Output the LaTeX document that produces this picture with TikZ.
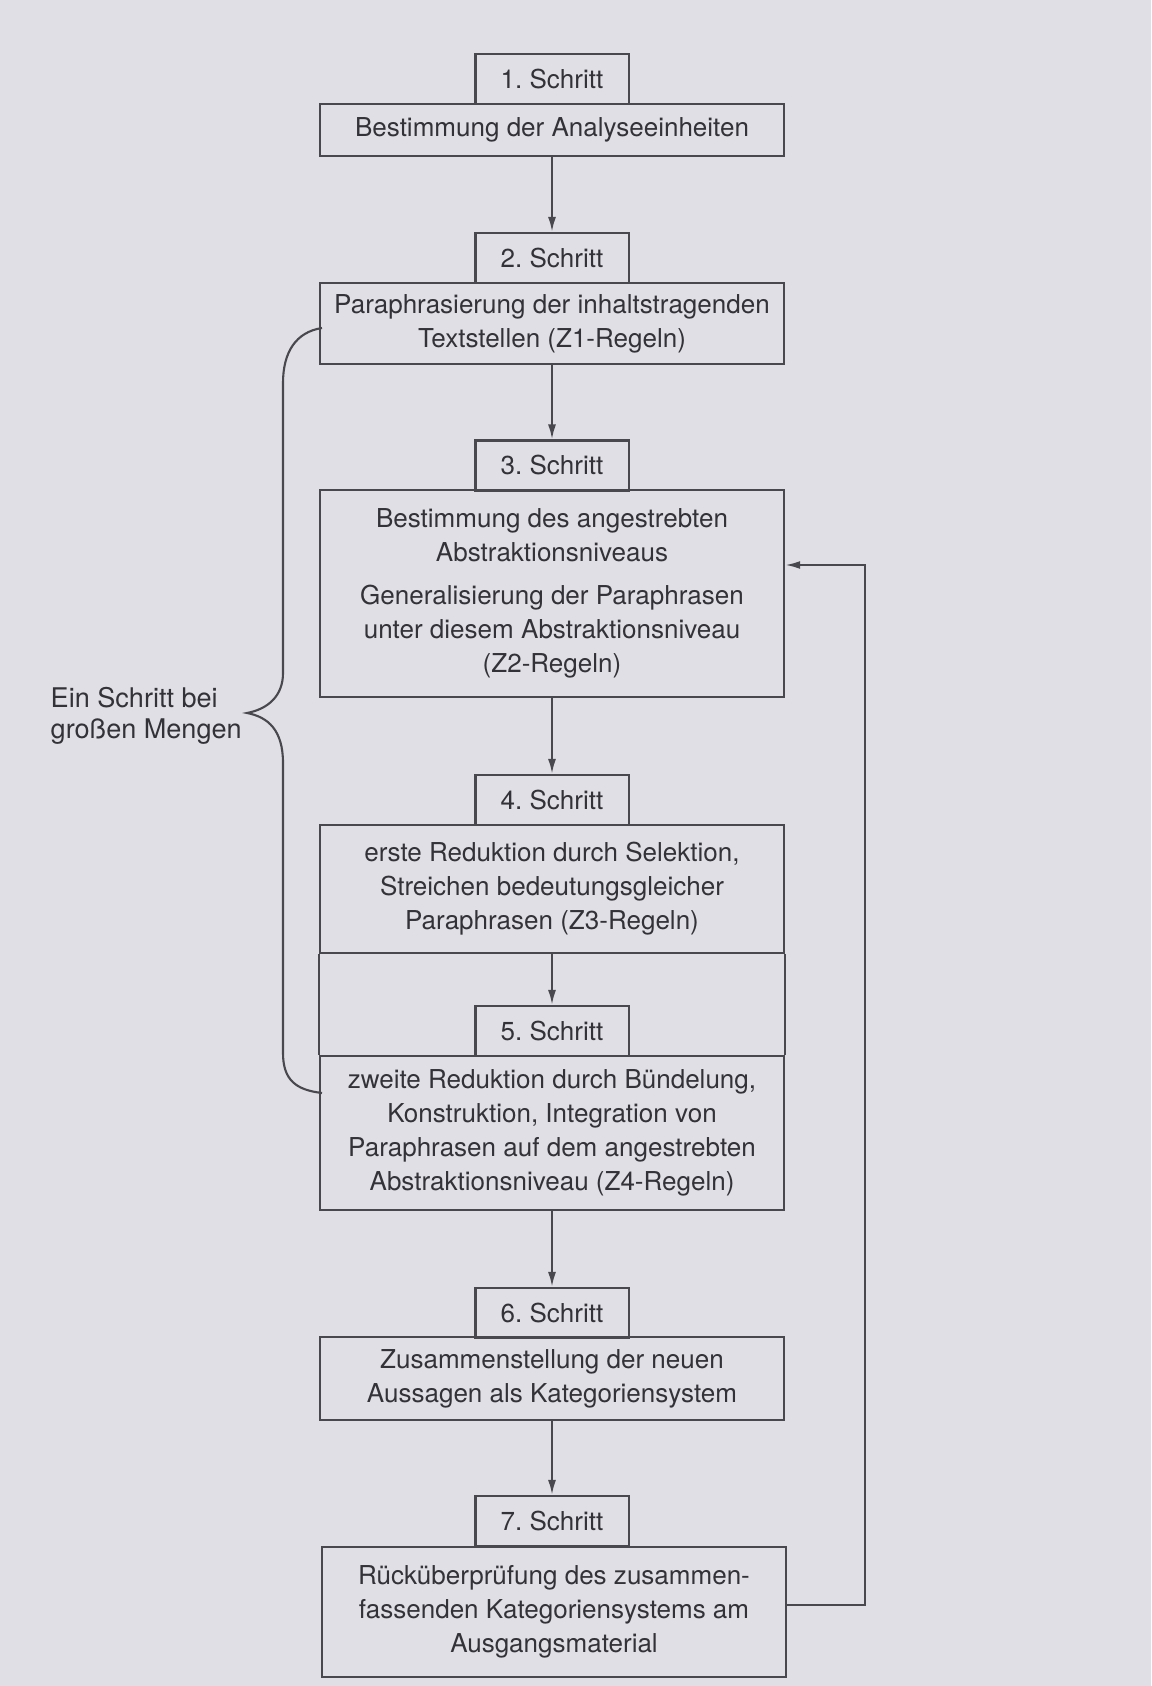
\documentclass[tikz,border=0pt]{standalone}
\usepackage{fontspec}
\setmainfont{TeX Gyre Heros}
\usepackage{tikz}
\usetikzlibrary{arrows.meta}
\definecolor{paper}{RGB}{223,223,229}
\definecolor{ink}{RGB}{72,72,78}
\definecolor{txt}{RGB}{50,50,56}
\frenchspacing

\begin{document}
\begin{tikzpicture}[x=0.01cm,y=-0.01cm,
        every node/.style={inner sep=0pt, text=txt, font=\fontsize{7.4}{9.7}\selectfont},
        tab/.style={draw=ink, line width=0.6pt, minimum width=1.53cm, minimum height=0.50cm},
        box/.style={draw=ink, line width=0.6pt, minimum width=4.64cm, align=center},
        arr/.style={draw=ink, line width=0.6pt, -{Latex[length=1.5mm,width=0.8mm]}}]
        \fill [paper] (0,0) rectangle (1151,1686);
        \useasboundingbox (0,0) rectangle (1151,1686);
        \node [tab] (s1) at (552,79) {1. Schritt};
        \node [box, minimum height=0.52cm] (b1) at (552,130) {Bestimmung der Analyseeinheiten};
        \node [tab] (s2) at (552,258) {2. Schritt};
        \node [box, minimum height=0.81cm] (b2) at (552,323.5) {Paraphrasierung der inhaltstragenden\\Textstellen (Z1-Regeln)};
        \node [tab] (s3) at (552,465.5) {3. Schritt};
        \node [box, minimum height=2.07cm] (b3) at (552,593.5) {Bestimmung des angestrebten\\Abstraktionsniveaus\\[2.5pt]Generalisierung der Paraphrasen\\unter diesem Abstraktionsniveau\\(Z2-Regeln)};
        \node [tab] (s4) at (552,800) {4. Schritt};
        \node [box, minimum height=1.28cm] (b4) at (552,889) {erste Reduktion durch Selektion,\\Streichen bedeutungsgleicher\\Paraphrasen (Z3-Regeln)};
        \node [tab] (s5) at (552,1031) {5. Schritt};
        \node [box, minimum height=1.54cm] (b5) at (552,1133) {zweite Reduktion durch Bündelung,\\Konstruktion, Integration von\\Paraphrasen auf dem angestrebten\\Abstraktionsniveau (Z4-Regeln)};
        \node [tab] (s6) at (552,1313) {6. Schritt};
        \node [box, minimum height=0.83cm] (b6) at (552,1378.5) {Zusammenstellung der neuen\\Aussagen als Kategoriensystem};
        \node [tab] (s7) at (552,1521) {7. Schritt};
        \node [box, minimum height=1.30cm] (b7) at (554,1612) {Rücküberprüfung des zusammen-\\fassenden Kategoriensystems am\\Ausgangsmaterial};
        \node [font=\fontsize{7.7}{8.9}\selectfont, align=left, anchor=west] (note) at (50,716) {Ein Schritt bei\\großen Mengen};
        \draw [arr] (b1.south) -- (s2.north);
        \draw [arr] (b2.south) -- (s3.north);
        \draw [arr] (b3.south) -- (s4.north);
        \draw [arr] (b4.south) -- (s5.north);
        \draw [arr] (b5.south) -- (s6.north);
        \draw [arr] (b6.south) -- (s7.north);
        \draw [draw=ink, line width=0.6pt] (b4.south west) -- (b5.north west) (b4.south east) -- (b5.north east);
        \coordinate (back) at (865,565);
        \draw [arr] ([yshift=0.07cm]b7.east) -| (back) -- (back -| b3.east);
        \draw [draw=ink, line width=0.6pt] (322,328) .. controls (296,332) and (283,352) .. (283,383) -- (283,673) .. controls (283,696) and (268,709) .. (247,713) .. controls (268,717) and (283,730) .. (283,763) -- (283,1053) .. controls (283,1080) and (296,1090) .. (322,1093);
\end{tikzpicture}
\end{document}
